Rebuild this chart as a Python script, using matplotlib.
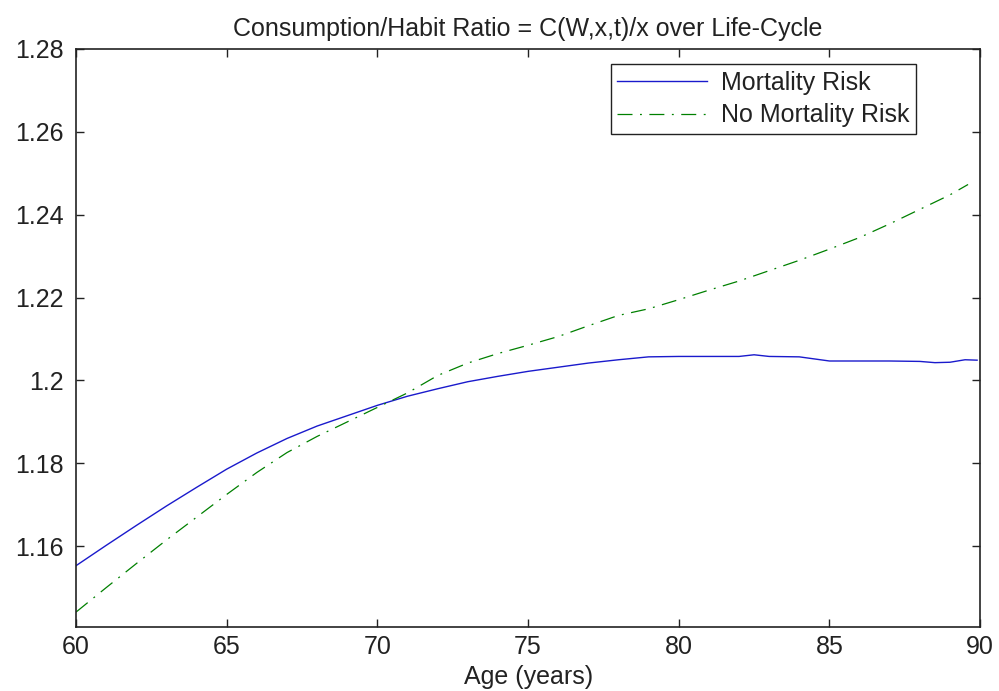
import numpy as np
import matplotlib
matplotlib.use('Agg')
import matplotlib.pyplot as plt

# values
age_mort = [60, 61, 62, 63, 64, 65, 66, 67, 68, 69, 70, 71, 72, 73, 74, 75, 76, 77, 78, 79,
            80, 81, 82, 82.5, 83, 84, 84.5, 85, 86, 87, 88, 88.5, 89, 89.5, 89.9]
ratio_mort = [1.1553, 1.1602, 1.1650, 1.1697, 1.1742, 1.1786, 1.1825, 1.1860, 1.1890, 1.1915,
              1.1940, 1.1962, 1.1980, 1.1997, 1.2010, 1.2022, 1.2032, 1.2042, 1.2050, 1.2057,
              1.2058, 1.2058, 1.2058, 1.2062, 1.2058, 1.2057, 1.2052, 1.2047, 1.2047, 1.2047,
              1.2046, 1.2043, 1.2044, 1.2050, 1.2049]

age_nomort = [60, 61, 62, 63, 64, 65, 66, 67, 68, 69, 70, 71, 72, 73, 74, 75, 76, 77, 78, 79,
              80, 81, 82, 83, 84, 85, 86, 87, 88, 89, 89.6]
ratio_nomort = [1.1441, 1.1500, 1.1558, 1.1615, 1.1670, 1.1725, 1.1778, 1.1826, 1.1865, 1.1900,
                1.1935, 1.1970, 1.2012, 1.2042, 1.2065, 1.2085, 1.2106, 1.2132, 1.2157, 1.2173,
                1.2195, 1.2218, 1.2240, 1.2265, 1.2290, 1.2317, 1.2345, 1.2378, 1.2413, 1.2448,
                1.2473]

x_ticks = [60, 65, 70, 75, 80, 85, 90]
y_ticks = [1.16, 1.18, 1.2, 1.22, 1.24, 1.26, 1.28]
y_labels = ['1.16', '1.18', '1.2', '1.22', '1.24', '1.26', '1.28']

plt.rcParams['font.family'] = ['Liberation Sans', 'DejaVu Sans']
txt = '#222222'
fs = 18

fig = plt.figure(figsize=(9.99, 6.91), dpi=100)
ax = fig.add_axes([0.0761, 0.0926, 0.905, 0.8365])

ax.plot(age_mort, ratio_mort, color='#1a1acc', lw=1.0, label='Mortality Risk')
ax.plot(age_nomort, ratio_nomort, color=(0, 0.5, 0), lw=0.9, dashes=(12, 6, 1.5, 6),
        label='No Mortality Risk')

ax.set_xlim(60, 90)
ax.set_ylim(1.1405, 1.28)
ax.set_xticks(x_ticks)
ax.set_yticks(y_ticks)
ax.set_yticklabels(y_labels)
ax.tick_params(direction='in', length=6, width=1, top=True, right=True,
               labelsize=fs, colors=txt)
ax.tick_params(axis='x', pad=6)
ax.tick_params(axis='y', pad=9)
for s in ax.spines.values():
    s.set_linewidth(1.2)
    s.set_color('#222222')

ax.set_title('Consumption/Habit Ratio = C(W,x,t)/x over Life-Cycle', fontsize=fs, color=txt, pad=9)
ax.set_xlabel('Age (years)', fontsize=fs, color=txt, labelpad=4)

leg = ax.legend(loc='upper right', bbox_to_anchor=(0.929, 0.9735), borderaxespad=0,
                fontsize=fs, fancybox=False, framealpha=1, edgecolor='#222222',
                handlelength=3.6, borderpad=0.25, labelspacing=0.35, handletextpad=0.55)
leg.get_frame().set_linewidth(1.0)
for t in leg.get_texts():
    t.set_color(txt)

fig.savefig('out.png', dpi=100)
